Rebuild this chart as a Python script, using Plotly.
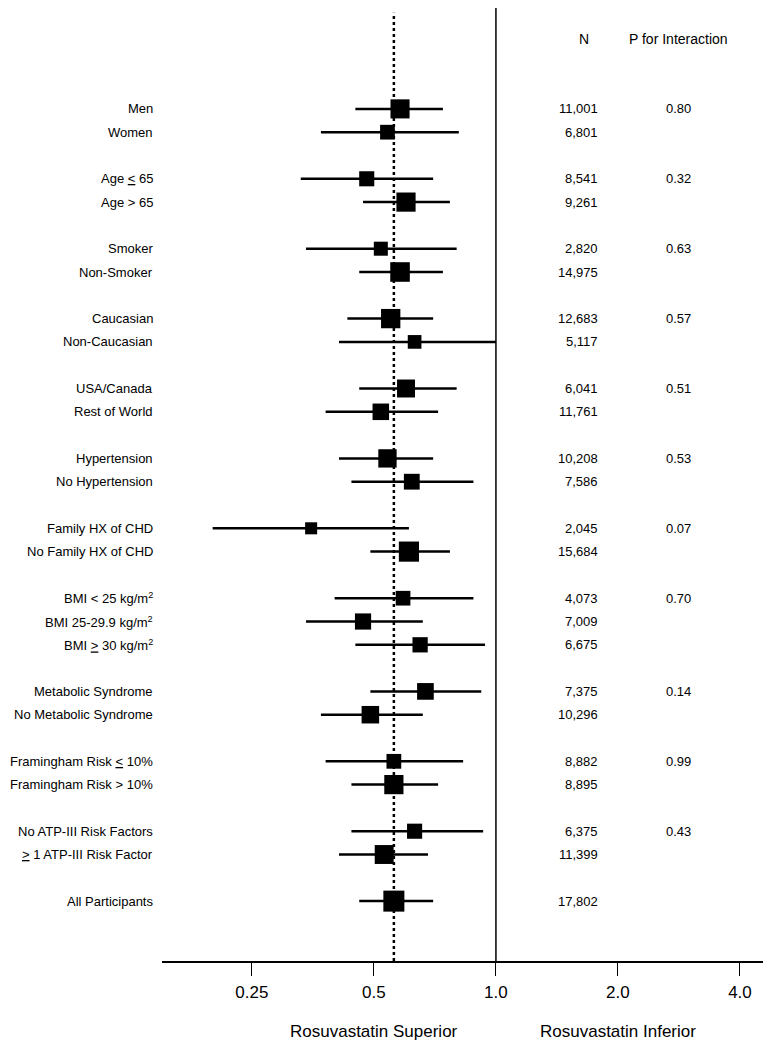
import math
import plotly.graph_objects as go

labels = [
    "Men", "Women",
    "Age <u>&lt;</u> 65", "Age &gt; 65",
    "Smoker", "Non-Smoker",
    "Caucasian", "Non-Caucasian",
    "USA/Canada", "Rest of World",
    "Hypertension", "No Hypertension",
    "Family HX of CHD", "No Family HX of CHD",
    "BMI &lt; 25 kg/m<sup>2</sup>", "BMI 25-29.9 kg/m<sup>2</sup>", "BMI <u>&gt;</u> 30 kg/m<sup>2</sup>",
    "Metabolic Syndrome", "No Metabolic Syndrome",
    "Framingham Risk <u>&lt;</u> 10%", "Framingham Risk &gt; 10%",
    "No ATP-III Risk Factors", "<u>&gt;</u> 1 ATP-III Risk Factor",
    "All Participants",
]
group_id = [0, 0, 1, 1, 2, 2, 3, 3, 4, 4, 5, 5, 6, 6, 7, 7, 7, 8, 8, 9, 9, 10, 10, 11]
hr = [0.58, 0.54, 0.48, 0.60, 0.52, 0.58, 0.55, 0.63, 0.60, 0.52, 0.54, 0.62,
      0.35, 0.61, 0.59, 0.47, 0.65, 0.67, 0.49, 0.56, 0.56, 0.63, 0.53, 0.56]
ci_lo = [0.45, 0.37, 0.33, 0.47, 0.34, 0.46, 0.43, 0.41, 0.46, 0.38, 0.41, 0.44,
         0.20, 0.49, 0.40, 0.34, 0.45, 0.49, 0.37, 0.38, 0.44, 0.44, 0.41, 0.46]
ci_hi = [0.74, 0.81, 0.70, 0.77, 0.80, 0.74, 0.70, 1.00, 0.80, 0.72, 0.70, 0.88,
         0.61, 0.77, 0.88, 0.66, 0.94, 0.92, 0.66, 0.83, 0.72, 0.93, 0.68, 0.70]
n_text = ["11,001", "6,801", "8,541", "9,261", "2,820", "14,975", "12,683", "5,117",
          "6,041", "11,761", "10,208", "7,586", "2,045", "15,684", "4,073", "7,009",
          "6,675", "7,375", "10,296", "8,882", "8,895", "6,375", "11,399", "17,802"]
p_text = ["0.80", "", "0.32", "", "0.63", "", "0.57", "", "0.51", "", "0.53", "",
          "0.07", "", "0.70", "", "", "0.14", "", "0.99", "", "0.43", "", ""]
overall_hr = 0.56
tick_vals = [0.25, 0.5, 1.0, 2.0, 4.0]
tick_text = ["0.25", "0.5", "1.0", "2.0", "4.0"]

FONT = "Liberation Sans, Arial, sans-serif"

pos = [i + g for i, g in enumerate(group_id)]
# marker size ~ inverse of CI width (precision weighting)
sizes = [15.8 * (math.log2(h / l)) ** -0.57 for l, h in zip(ci_lo, ci_hi)]

fig = go.Figure()
fig.add_trace(go.Scatter(
    x=hr, y=pos, mode="markers",
    marker=dict(symbol="square", color="black", size=sizes, opacity=1, line=dict(width=0)),
    error_x=dict(type="data", symmetric=False,
                 array=[h - v for h, v in zip(ci_hi, hr)],
                 arrayminus=[v - l for v, l in zip(hr, ci_lo)],
                 color="black", thickness=2.5, width=0),
    showlegend=False, hoverinfo="skip",
))

shapes = [
    dict(type="line", xref="x", yref="paper", x0=1.0, x1=1.0, y0=0, y1=1,
         line=dict(color="black", width=1.5)),
    dict(type="line", xref="x", yref="paper", x0=overall_hr, x1=overall_hr, y0=0, y1=0.995,
         line=dict(color="black", width=2.5, dash="dot")),
]

ann = []
for lab, y, nt, pt in zip(labels, pos, n_text, p_text):
    ann.append(dict(x=-0.012, xref="paper", y=y, yref="y", text=lab, showarrow=False,
                    xanchor="right", yanchor="middle", font=dict(size=13, family=FONT, color="black")))
    ann.append(dict(x=0.7288, xref="paper", y=y, yref="y", text=nt, showarrow=False,
                    xanchor="right", yanchor="middle", font=dict(size=13, family=FONT, color="black")))
    if pt:
        ann.append(dict(x=0.8586, xref="paper", y=y, yref="y", text=pt, showarrow=False,
                        xanchor="center", yanchor="middle", font=dict(size=13, family=FONT, color="black")))
ann.append(dict(x=0.702, xref="paper", y=-3, yref="y", text="N", showarrow=False,
                xanchor="center", yanchor="middle", font=dict(size=14, family=FONT, color="black")))
ann.append(dict(x=0.8586, xref="paper", y=-3, yref="y", text="P for Interaction", showarrow=False,
                xanchor="center", yanchor="middle", font=dict(size=14, family=FONT, color="black")))
ann.append(dict(x=math.log10(0.5), xref="x", y=-0.0737, yref="paper", text="Rosuvastatin Superior",
                showarrow=False, xanchor="center", yanchor="middle",
                font=dict(size=17, family=FONT, color="black")))
ann.append(dict(x=math.log10(2.0), xref="x", y=-0.0737, yref="paper", text="Rosuvastatin Inferior",
                showarrow=False, xanchor="center", yanchor="middle",
                font=dict(size=17, family=FONT, color="black")))

fig.update_layout(
    width=763, height=1042,
    margin=dict(l=154, r=8, t=0, b=89),
    plot_bgcolor="white", paper_bgcolor="white",
    shapes=shapes, annotations=ann,
    xaxis=dict(type="log", range=[math.log10(0.150), math.log10(4.56)],
               tickvals=tick_vals, ticktext=tick_text,
               showgrid=False, zeroline=False, showline=True, linecolor="black", linewidth=1.5,
               ticks="outside", ticklen=13, tickwidth=1.2, tickcolor="black",
               ticklabelstandoff=2,
               tickfont=dict(size=17, family=FONT, color="black")),
    yaxis=dict(range=[36.57, -4.33], visible=False, showgrid=False, zeroline=False),
)

fig.write_html("out.html")
